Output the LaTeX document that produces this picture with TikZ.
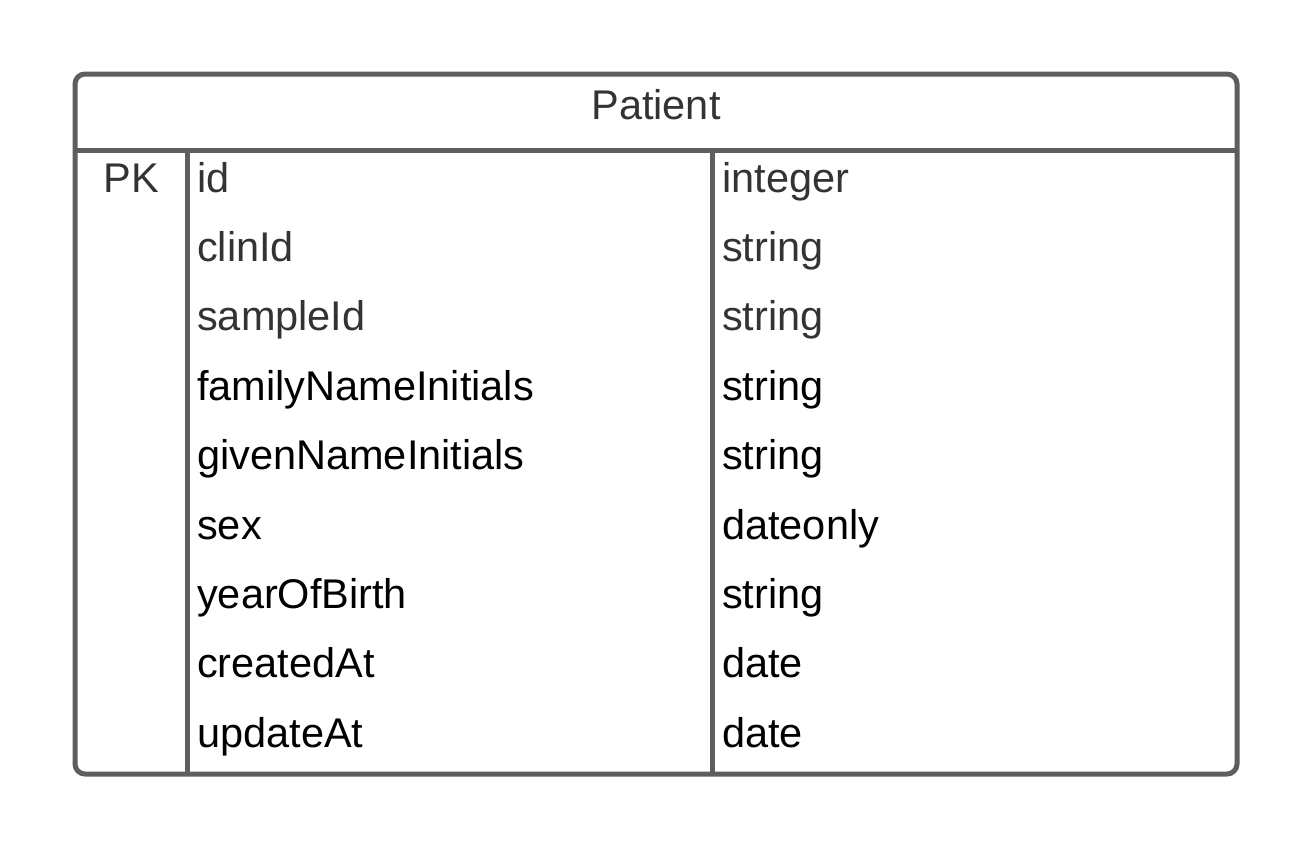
\documentclass[tikz,border=0pt]{standalone}
\usepackage{fontspec}
\setmainfont{Liberation Sans}
\definecolor{frame}{HTML}{5E5E5E}
\definecolor{soft}{HTML}{333333}
\begin{document}
\begin{tikzpicture}[x=1pt,y=-1pt,
  frameline/.style={draw=frame,line width=5pt},
  cell/.style={inner sep=0pt,anchor=base west,font=\fontsize{41.5}{48}\selectfont},
  keycell/.style={inner sep=0pt,anchor=base,font=\fontsize{41.5}{48}\selectfont,text=soft},
  dim/.style={text=soft},
  full/.style={text=black}]
\useasboundingbox (0,0) rectangle (1313,849);
% table frame, header rule and column rules
\coordinate (tl) at (75,74);
\coordinate (br) at (1237,774);
\draw[frameline,rounded corners=10pt] (tl) rectangle (br);
\coordinate (hl) at (75,150);
\coordinate (hr) at (1237,150);
\draw[frameline] (hl) -- (hr);
\coordinate (c1t) at (187,150);
\coordinate (c1b) at (187,774);
\coordinate (c2t) at (712,150);
\coordinate (c2b) at (712,774);
\draw[frameline] (c1t) -- (c1b);
\draw[frameline] (c2t) -- (c2b);
% title
\node[keycell] (title) at (656,119) {Patient};
\node[keycell] (pk) at (131,192) {PK};
% field names and types
\foreach \n/\t/\s [count=\i from 0] in {id/integer/dim, clinId/string/dim, sampleId/string/dim,
  familyNameInitials/string/full, givenNameInitials/string/full, sex/dateonly/full,
  yearOfBirth/string/full, createdAt/date/full, updateAt/date/full}{
  \node[cell,\s] (name\i) at (197,192+69.4*\i) {\n};
  \node[cell,\s] (type\i) at (722,192+69.4*\i) {\t};
}
\end{tikzpicture}
\end{document}
